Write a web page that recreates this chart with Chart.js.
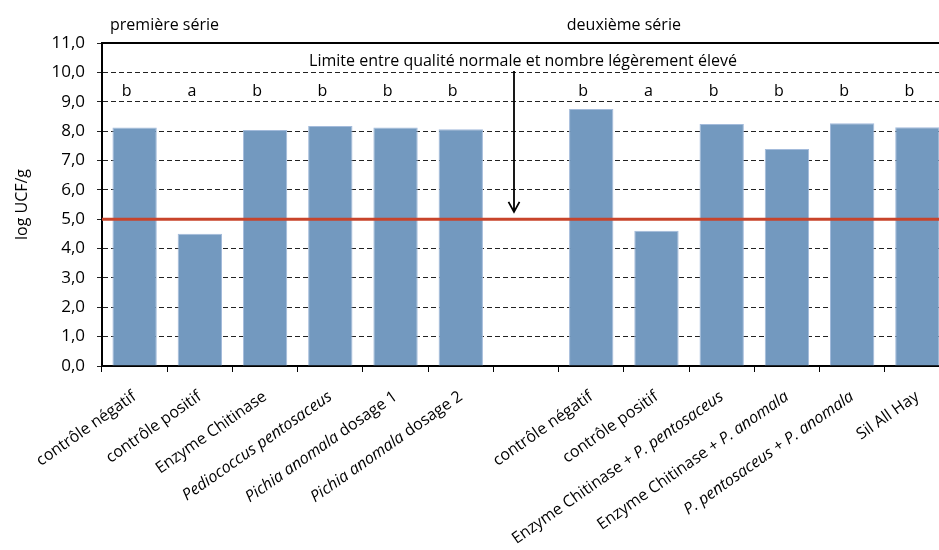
<!DOCTYPE html>
<html>
<head>
<meta charset="utf-8">
<script src="https://cdn.jsdelivr.net/npm/chart.js@4"></script>
<style>
  body { margin: 0; overflow: hidden; background: #fff; }
</style>
</head>
<body>
<canvas id="chart" width="950" height="550"></canvas>
<script>
// *text* = italic part of a label
const categories = [
    "contrôle négatif", "contrôle positif", "Enzyme Chitinase", "*Pediococcus pentosaceus*",
    "*Pichia anomala* dosage 1", "*Pichia anomala* dosage 2", "",
    "contrôle négatif", "contrôle positif", "Enzyme Chitinase + *P. pentosaceus*",
    "Enzyme Chitinase + *P. anomala*", "*P. pentosaceus* + *P. anomala*", "Sil All Hay"
];
const values = [8.12, 4.50, 8.04, 8.17, 8.12, 8.06, null, 8.75, 4.61, 8.24, 7.39, 8.27, 8.13];
const letters = ["b", "a", "b", "b", "b", "b", "", "b", "a", "b", "b", "b", "b"];
const seriesTitles = ["première série", "deuxième série"];
const limitValue = 5;
const limitText = "Limite entre qualité normale et nombre légèrement élevé";
const yMin = 0, yMax = 11, yStep = 1;

const FONT = "'Open Sans', 'DejaVu Sans', sans-serif";

function segments(label) {
    return label.split("*").map((t, i) => ({ text: t, italic: i % 2 === 1 })).filter(s => s.text);
}

const extrasPlugin = {
    id: "extras",
    afterDatasetsDraw(chart) {
        const ctx = chart.ctx;
        const x = chart.scales.x, y = chart.scales.y, area = chart.chartArea;
        ctx.save();

        // red limit line
        const yl = y.getPixelForValue(limitValue);
        ctx.strokeStyle = "#c8442b";
        ctx.lineWidth = 3;
        ctx.beginPath();
        ctx.moveTo(area.left, yl);
        ctx.lineTo(area.right, yl);
        ctx.stroke();

        // letters above bars
        ctx.fillStyle = "#000";
        ctx.font = "16px " + FONT;
        ctx.textAlign = "center";
        ctx.textBaseline = "middle";
        letters.forEach((l, i) => {
            if (l) ctx.fillText(l, x.getPixelForValue(i) - 8, y.getPixelForValue(9.35));
        });

        // series titles
        ctx.textAlign = "left";
        ctx.fillText(seriesTitles[0], area.left + 8, area.top - 18);
        ctx.textAlign = "center";
        const mid2 = (x.getPixelForValue(7) + x.getPixelForValue(8)) / 2;
        ctx.fillText(seriesTitles[1], mid2, area.top - 18);

        // limit annotation + arrow
        const xc = x.getPixelForValue(6);
        ctx.fillText(limitText, xc - 3, y.getPixelForValue(10.38));
        const xa = xc - 12;
        const yTop = y.getPixelForValue(10.05), yTip = y.getPixelForValue(5.25);
        ctx.strokeStyle = "#000";
        ctx.lineWidth = 1.8;
        ctx.beginPath();
        ctx.moveTo(xa, yTop);
        ctx.lineTo(xa, yTip);
        ctx.moveTo(xa - 5.5, yTip - 10);
        ctx.lineTo(xa, yTip);
        ctx.lineTo(xa + 5.5, yTip - 10);
        ctx.stroke();

        ctx.restore();
    },
    afterDraw(chart) {
        const ctx = chart.ctx;
        const x = chart.scales.x, area = chart.chartArea;
        const angle = -35 * Math.PI / 180;
        ctx.save();
        ctx.fillStyle = "#000";
        ctx.textBaseline = "middle";
        ctx.textAlign = "left";
        categories.forEach((label, i) => {
            if (!label) return;
            const segs = segments(label);
            let total = 0;
            segs.forEach(s => {
                ctx.font = (s.italic ? "italic " : "") + "16px " + FONT;
                s.w = ctx.measureText(s.text).width;
                total += s.w;
            });
            ctx.save();
            ctx.translate(x.getPixelForValue(i), area.bottom + 29);
            ctx.rotate(angle);
            let pos = -total;
            segs.forEach(s => {
                ctx.font = (s.italic ? "italic " : "") + "16px " + FONT;
                ctx.fillText(s.text, pos, 0);
                pos += s.w;
            });
            ctx.restore();
        });
        ctx.restore();
    }
};

const chartElement = document.getElementById("chart").getContext("2d");

const chart = new Chart(chartElement, {
    type: "bar",
    data: {
        labels: categories,
        datasets: [{
            data: values,
            backgroundColor: "#7399bf",
            borderColor: "#a3bbdb",
            borderWidth: 1,
            barPercentage: 0.68,
            categoryPercentage: 1
        }]
    },
    options: {
        responsive: false,
        animation: false,
        layout: { padding: { top: 43, right: 0, left: 0, bottom: 0 } },
        plugins: { legend: { display: false }, tooltip: { enabled: false } },
        scales: {
            x: {
                ticks: { display: false },
                grid: { drawOnChartArea: false, drawTicks: true, tickLength: 6, color: "#000", lineWidth: 1 },
                border: { color: "#000", width: 2 },
                afterFit: s => { s.height = 550 - 43 - 323; }
            },
            x2: {
                position: "top",
                ticks: { display: false },
                grid: { display: false },
                border: { color: "#000", width: 2 },
                afterFit: s => { s.height = 0; }
            },
            y: {
                min: yMin,
                max: yMax,
                ticks: {
                    stepSize: yStep,
                    color: "#000",
                    font: { family: FONT, size: 17 },
                    padding: 12,
                    callback: v => v.toFixed(1).replace(".", ",")
                },
                grid: { color: "#222", lineWidth: 1, tickLength: 5, tickBorderDash: [5, 0] },
                border: { color: "#000", width: 2, dash: [5, 3] },
                title: {
                    display: true,
                    text: "log UCF/g",
                    color: "#000",
                    font: { family: FONT, size: 16 },
                    padding: { top: 13, bottom: 0 }
                },
                afterFit: s => { s.width = 102; }
            }
        }
    },
    plugins: [extrasPlugin]
});
</script>
</body>
</html>
